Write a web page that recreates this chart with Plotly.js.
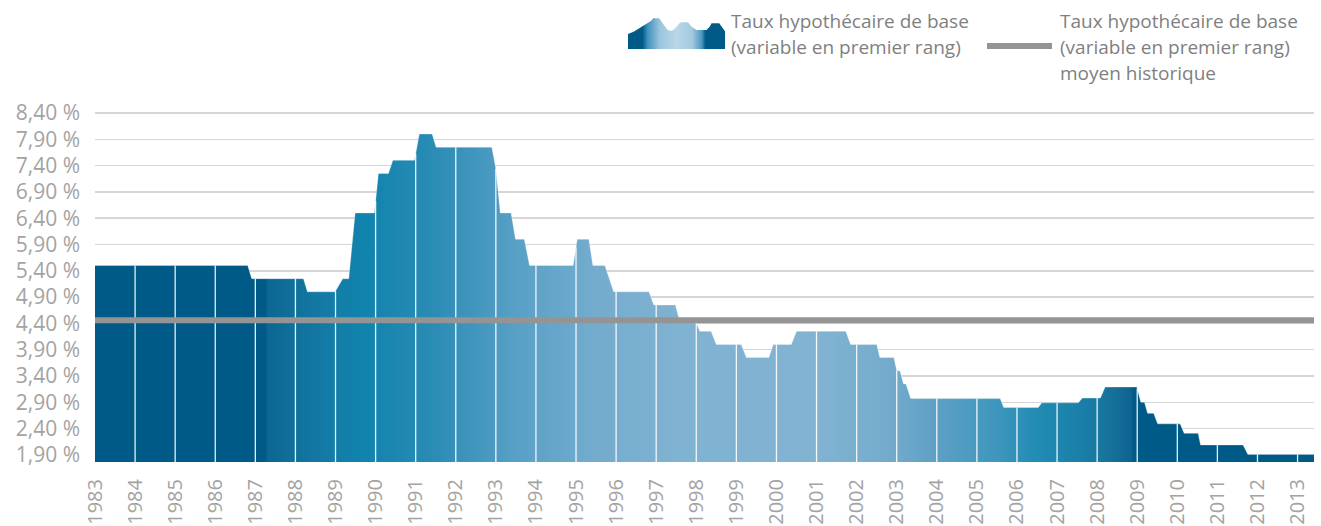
<!DOCTYPE html>
<html><head><meta charset="utf-8">
<script src="https://cdn.plot.ly/plotly-3.0.1.min.js"></script>
<style>html,body{margin:0;padding:0;background:#fff}#chart{width:1321px;height:526px}</style>
</head><body><div id="chart"></div>
<script>
// ---- data ----
const YEARS = [1983,1984,1985,1986,1987,1988,1989,1990,1991,1992,1993,1994,1995,1996,1997,1998,1999,2000,2001,2002,2003,2004,2005,2006,2007,2008,2009,2010,2011,2012,2013];
const RATE_X = [1983.00,1986.81,1986.91,1988.20,1988.30,1988.99,1989.18,1989.33,1989.49,1989.97,1990.07,1990.32,1990.43,1990.97,1991.09,1991.41,1991.51,1992.90,1993.00,1993.11,1993.38,1993.49,1993.71,1993.84,1994.93,1995.03,1995.32,1995.42,1995.72,1995.94,1996.82,1996.94,1997.48,1997.59,1997.99,1998.09,1998.37,1998.50,1999.12,1999.25,1999.81,1999.92,2000.37,2000.50,2001.73,2001.85,2002.50,2002.58,2002.93,2003.00,2003.08,2003.17,2003.23,2003.35,2005.58,2005.67,2006.53,2006.62,2007.53,2007.63,2008.08,2008.20,2008.99,2009.03,2009.09,2009.18,2009.26,2009.41,2009.51,2010.07,2010.17,2010.52,2010.58,2011.64,2011.76,2013.41];
const RATE_Y = [5.50,5.50,5.25,5.25,5.00,5.00,5.25,5.25,6.50,6.50,7.25,7.25,7.50,7.50,8.00,8.00,7.75,7.75,7.34,6.50,6.50,6.00,6.00,5.50,5.50,6.00,6.00,5.50,5.50,5.00,5.00,4.75,4.75,4.43,4.43,4.25,4.25,4.00,4.00,3.75,3.75,4.00,4.00,4.25,4.25,4.00,4.00,3.75,3.75,3.50,3.50,3.25,3.25,2.97,2.97,2.80,2.80,2.89,2.89,2.98,2.98,3.19,3.19,3.08,2.90,2.90,2.69,2.69,2.49,2.49,2.31,2.31,2.09,2.09,1.91,1.91];
const AVERAGE_RATE = 4.46;
const Y_TICKS = [1.90,2.40,2.90,3.40,3.90,4.40,4.90,5.40,5.90,6.40,6.90,7.40,7.90,8.40];
const Y_TICK_TEXT = ['1,90 %','2,40 %','2,90 %','3,40 %','3,90 %','4,40 %','4,90 %','5,40 %','5,90 %','6,40 %','6,90 %','7,40 %','7,90 %','8,40 %'];
const LEGEND_RATE = ['Taux hypothécaire de base','(variable en premier rang)'];
const LEGEND_AVG = ['Taux hypothécaire de base','(variable en premier rang)','moyen historique'];
// legend icon silhouette (small mountain glyph)
const ICON_X = [0,0,6,12,22.7,25,31,34.3,39.3,43,46,51,52.7,59.3,62.7,67.7,77.7,81,82.7,90.3,94.3,96,96];
const ICON_Y = [0,15,17.4,21.4,28,30.7,30.7,25.7,19,18,20,25.7,26.7,26.7,22.4,19,19,22.4,25.7,25.7,20.7,17.7,0];

// ---- geometry ----
const W = 1321, H = 526, ML = 95, MR = 7, MT = 0, MB = 64;
const PW = W - ML - MR, PH = H - MT - MB;
const X0 = 1983, X1 = RATE_X[RATE_X.length - 1];
const YMIN = 1.765, YMAX = 8.42;
const px2x = p => (p - ML) / PW;
const px2y = p => (H - MB - p) / PH;

function interp(x) {
  for (let i = 0; i < RATE_X.length - 1; i++) {
    if (x >= RATE_X[i] && x <= RATE_X[i + 1]) {
      const t = (x - RATE_X[i]) / (RATE_X[i + 1] - RATE_X[i] || 1);
      return RATE_Y[i] + t * (RATE_Y[i + 1] - RATE_Y[i]);
    }
  }
  return RATE_Y[RATE_Y.length - 1];
}
const sepX = [], sepY = [];
YEARS.slice(1).forEach(yr => { sepX.push(yr, yr, null); sepY.push(YMIN - 1, interp(yr), null); });

const pos = yr => (yr - X0) / (X1 - X0);
const NAVY = '#005a87';
const fillScale = [
  [0, NAVY], [pos(1987.25), NAVY], [pos(1987.3), '#0c6792'], [pos(1988.0), '#11709b'],
  [pos(1988.8), '#137ca6'], [pos(1989.8), '#1184ad'], [pos(1991.5), '#2c8cb5'], [pos(1993.5), '#58a0c6'],
  [pos(1995.5), '#74acce'], [pos(1997.5), '#80b2d1'], [pos(2001), '#82b3d1'],
  [pos(2002.8), '#74abcc'], [pos(2004), '#5ea0c5'], [pos(2005.5), '#3e96bd'],
  [pos(2006.5), '#218cb4'], [pos(2007.5), '#1a80aa'], [pos(2008.1), '#19779f'],
  [pos(2008.6), '#136a95'], [pos(2008.85), '#0d6290'], [pos(2008.9), NAVY], [1, NAVY]
];
const iconScale = [
  [0, NAVY], [0.15, NAVY], [0.2, '#3f8fbc'], [0.33, '#9cc6de'], [0.5, '#b9d7e7'],
  [0.66, '#a3cae0'], [0.76, '#4c96c1'], [0.8, NAVY], [1, NAVY]
];

const AX_FONT = {family: 'Open Sans, sans-serif', size: 21, color: '#a3a3a3'};
const X_FONT = {family: 'Open Sans, sans-serif', size: 20, color: '#a3a3a3'};
const LG_FONT = {family: 'Open Sans, sans-serif', size: 19, color: '#7f7f7f'};

const traces = [
  {x: RATE_X, y: RATE_Y, type: 'scatter', mode: 'lines', fill: 'tozeroy',
   line: {color: 'rgba(255,255,255,0.3)', width: 1, shape: 'linear'},
   fillcolor: '#4a98c0',
   fillgradient: {type: 'horizontal', colorscale: fillScale, start: X0, stop: X1},
   hoverinfo: 'skip', showlegend: false},
  {x: sepX, y: sepY, type: 'scatter', mode: 'lines',
   line: {color: 'rgba(255,255,255,0.9)', width: 1.3}, hoverinfo: 'skip', showlegend: false},
  {x: [X0, X1], y: [AVERAGE_RATE, AVERAGE_RATE], type: 'scatter', mode: 'lines',
   line: {color: '#949494', width: 6}, hoverinfo: 'skip', showlegend: false},
  {x: ICON_X, y: ICON_Y, xaxis: 'x2', yaxis: 'y2', type: 'scatter', mode: 'lines', fill: 'toself',
   line: {width: 0, color: 'rgba(0,0,0,0)'}, fillcolor: '#6aa8cc',
   fillgradient: {type: 'horizontal', colorscale: iconScale, start: 0, stop: 96},
   hoverinfo: 'skip', showlegend: false}
];

const ann = [];
const addText = (txt, xpx, ypx) => ann.push({text: txt, x: px2x(xpx), y: px2y(ypx), xref: 'paper', yref: 'paper',
  xanchor: 'left', yanchor: 'middle', showarrow: false, font: LG_FONT});
LEGEND_RATE.forEach((t, i) => addText(t, 729, 21 + i * 26));
LEGEND_AVG.forEach((t, i) => addText(t, 1058, 21 + i * 26));

const layout = {
  width: W, height: H, margin: {l: ML, r: MR, t: MT, b: MB, pad: 0},
  paper_bgcolor: '#fff', plot_bgcolor: '#fff', showlegend: false,
  xaxis: {range: [X0, X1], domain: [0, 1], tickvals: YEARS, ticktext: YEARS.map(String), tickangle: -90,
    showgrid: false, zeroline: false, showline: false, ticks: '', ticklabelstandoff: 12,
    tickfont: X_FONT, automargin: false, fixedrange: true},
  yaxis: {range: [YMIN, YMAX], domain: [0, (YMAX - YMIN) * 52.6 / PH], tickvals: Y_TICKS, ticktext: Y_TICK_TEXT,
    showgrid: true, gridcolor: '#d6d6d6', gridwidth: 1.5, zeroline: false, showline: false, ticks: '',
    ticklabelstandoff: 14, tickfont: AX_FONT, automargin: false, fixedrange: true},
  xaxis2: {domain: [px2x(628), px2x(725)], range: [0, 96], visible: false, anchor: 'y2', fixedrange: true},
  yaxis2: {domain: [px2y(49), px2y(18)], range: [0, 31], visible: false, anchor: 'x2', fixedrange: true},
  shapes: [{type: 'line', xref: 'paper', yref: 'paper', x0: px2x(987), x1: px2x(1052), y0: px2y(46), y1: px2y(46),
    line: {color: '#949494', width: 6}}],
  annotations: ann
};
Plotly.newPlot('chart', traces, layout, {staticPlot: true, displayModeBar: false});
</script></body></html>
